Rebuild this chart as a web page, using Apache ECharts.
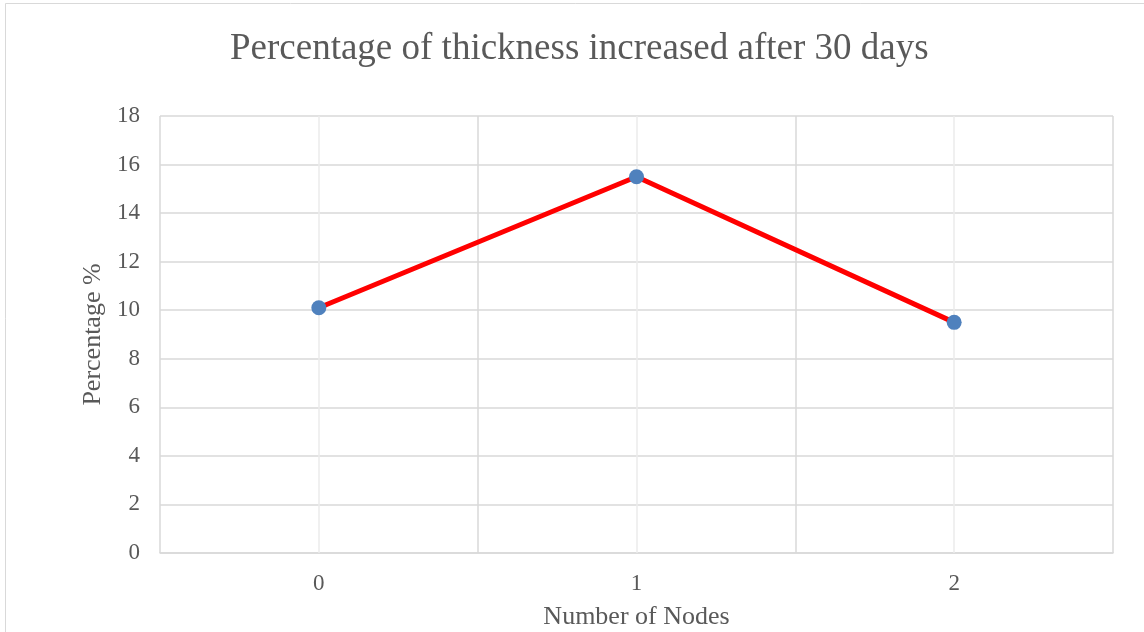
<!DOCTYPE html>
<html>
<head>
<meta charset="utf-8">
<script src="https://cdn.jsdelivr.net/npm/echarts@6/dist/echarts.min.js"></script>
<style>html,body{margin:0;padding:0;background:#fff;}#c{width:1144px;height:632px;}</style>
</head>
<body>
<div id="c"></div>
<script>
const titleText = 'Percentage of thickness increased after 30 days';
const categories = ['0', '1', '2'];
const values = [10.1, 15.5, 9.5];
const yMin = 0, yMax = 18, yStep = 2;
const xTitle = 'Number of Nodes';
const yTitle = 'Percentage %';

const font = '"Liberation Serif", "Times New Roman", serif';
const chart = echarts.init(document.getElementById('c'));
const gridTop = 116, gridBottom = 79;
chart.setOption({
  animation: false,
  backgroundColor: '#ffffff',
  graphic: [{
    type: 'rect', x: 0, y: 0, shape: { x: 5.5, y: 3.5, width: 1200, height: 700 },
    style: { fill: 'none', stroke: '#d9d9d9', lineWidth: 1 }, silent: true, z: -10
  }],
  title: {
    text: titleText, left: 225, top: 26,
    textStyle: { fontFamily: font, fontSize: 37, fontWeight: 'normal', color: '#595959' }
  },
  grid: { left: 160, right: 31, top: gridTop, bottom: gridBottom, containLabel: false, outerBoundsMode: 'none' },
  xAxis: {
    type: 'category', data: categories, boundaryGap: true,
    name: xTitle, nameLocation: 'middle', nameGap: 51,
    nameTextStyle: { fontFamily: font, fontSize: 26, color: '#595959' },
    axisLine: { show: true, lineStyle: { color: '#d9d9d9', width: 1.5 } },
    axisTick: { show: true, alignWithLabel: true, inside: true, length: 632 - gridTop - gridBottom, lineStyle: { color: '#ececec', width: 1.5 } },
    axisLabel: { fontFamily: font, fontSize: 23, color: '#595959', margin: 19 },
    splitLine: { show: true, lineStyle: { color: '#d9d9d9', width: 1.5 } }
  },
  yAxis: {
    type: 'value', min: yMin, max: yMax, interval: yStep,
    name: yTitle, nameLocation: 'middle', nameGap: 52, nameRotate: 90,
    nameTextStyle: { fontFamily: font, fontSize: 26, color: '#595959' },
    axisLine: { show: false }, axisTick: { show: false },
    axisLabel: { fontFamily: font, fontSize: 23, color: '#595959', margin: 20 },
    splitLine: { show: true, lineStyle: { color: '#d9d9d9', width: 1.5 } }
  },
  series: [{
    type: 'line', data: values,
    lineStyle: { color: '#ff0000', width: 5 },
    itemStyle: { color: '#4f81bd' },
    symbol: 'circle', symbolSize: 15, showSymbol: true, z: 5
  }]
});
</script>
</body>
</html>
